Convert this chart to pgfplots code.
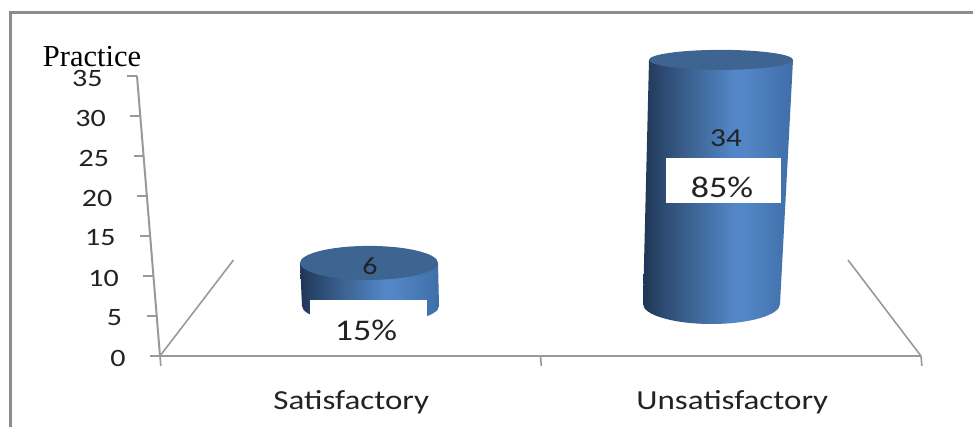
\documentclass[border=0pt]{standalone}
\usepackage{pgfplots}
\usepackage{pgfplotstable}
\usepackage{fontspec}
\pgfplotsset{compat=1.18}
\setmainfont{Liberation Serif}
\newfontfamily\calfont[FakeStretch=1.2]{Carlito}
\definecolor{framegray}{HTML}{8C8C8C}
\definecolor{axisgray}{HTML}{999999}
\definecolor{txt}{HTML}{222222}
\definecolor{cyltop}{HTML}{3E6491}
\definecolor{cA}{HTML}{1F3654}
\definecolor{cF}{HTML}{2D4B73}
\definecolor{cB}{HTML}{3B618F}
\definecolor{cC}{HTML}{4A79B4}
\definecolor{cD}{HTML}{5386C6}
\definecolor{cE}{HTML}{3F6EA8}
\pgfdeclarehorizontalshading{cyl}{100bp}{
  color(0bp)=(cA);
  color(25bp)=(cA);
  color(32bp)=(cF);
  color(40bp)=(cB);
  color(50bp)=(cC);
  color(55bp)=(cD);
  color(59bp)=(cD);
  color(75bp)=(cE);
  color(100bp)=(cE)}
\newcommand\declcyl[4]{%
  \pgfdeclareplotmark{#1}{%
    \pgfpathellipse{\pgfpointorigin}{\pgfqpoint{#2}{0pt}}{\pgfqpoint{0pt}{#3}}%
    #4}}
% the extra zero-area point widens the box of the shading to the body's own width
\declcyl{cbaseL}{68.5pt}{18pt}{\pgfpathmoveto{\pgfqpoint{-70.5pt}{0pt}}\pgfpathlineto{\pgfqpoint{-70.5pt}{0pt}}\pgfshadepath{cyl}{0}\pgfusepath{discard}}
\declcyl{cbaseR}{68.5pt}{20pt}{\pgfpathmoveto{\pgfqpoint{81.5pt}{0pt}}\pgfpathlineto{\pgfqpoint{81.5pt}{0pt}}\pgfshadepath{cyl}{0}\pgfusepath{discard}}
\declcyl{ctopL}{69pt}{17pt}{\pgfsetfillcolor{cyltop}\pgfusepath{fill}}
\declcyl{ctopR}{72pt}{10pt}{\pgfsetfillcolor{cyltop}\pgfusepath{fill}}
\pgfplotsset{cylaxis/.style={at={(0pt,123pt)},anchor=origin,x={(1pt,0pt)},y={(0pt,7.18pt)},
  xmin=0,xmax=973,ymin=0,ymax=40,axis lines=none,clip=false}}
\begin{document}
\begin{tikzpicture}[x=1pt,y=1pt]
\useasboundingbox (0,0) rectangle (973,427);
% frame and floor
\begin{axis}[at={(0pt,0pt)},anchor=origin,x={(1pt,0pt)},y={(0pt,1pt)},
  xmin=0,xmax=973,ymin=0,ymax=427,axis lines=none,clip=true]
\addplot[framegray,line width=3pt,no marks] coordinates {(10,0)(10,414.5)(973,414.5)};
\addplot[axisgray,line width=1.6pt,no marks] coordinates {(160,71)(233.5,167)};
\addplot[axisgray,line width=1.6pt,no marks] coordinates {(921,71)(848,167)};
\end{axis}
% value axes (skewed like the 3-D wall)
\begin{axis}[at={(160pt,71pt)},anchor=origin,x={(1pt,0pt)},y={(-0.657pt,8pt)},
  xmin=0,xmax=761,ymin=0,ymax=35,
  axis x line=bottom,axis y line=left,
  axis line style={-,axisgray,line width=2pt},
  tick align=outside,
  tick style={axisgray,line width=1.6pt},
  major tick length=10pt,
  ytick={0,5,10,15,20,25,30,35},
  xtick={0,380.5,761},xticklabels={,,},
  extra x ticks={190,571},
  extra x tick labels={Satisfactory,Unsatisfactory},
  extra x tick style={tick style={draw=none},major tick length=0pt,
    xticklabel style={yshift=-31pt,font=\calfont\fontsize{27.5}{27.5}\selectfont}},
  /pgf/number format/assume math mode=true,
  ticklabel style={font=\calfont\fontsize{25}{25}\selectfont,text=txt},
  yticklabel style={xshift=-21pt,yshift=-2pt},
  clip=false]
\end{axis}
% cylinder bases
\begin{axis}[cylaxis]
\addplot[only marks,mark=cbaseL,yshift=-2pt] coordinates {(370.5,0)};
\addplot[only marks,mark=cbaseR] coordinates {(711.5,0)};
\end{axis}
% cylinder bodies and tops
\begin{axis}[cylaxis]
\addplot[draw=none,shading=cyl,shading angle=0,yshift=-2pt] coordinates {(302,0)(439,0)(438,6)(300,6)} --cycle;
\addplot[only marks,mark=ctopL,yshift=-2pt] coordinates {(369,6)};
\addplot[draw=none,shading=cyl,shading angle=0] coordinates {(643,0)(780,0)(793,34)(649,34)} --cycle;
\addplot[only marks,mark=ctopR] coordinates {(721,34)};
\end{axis}
% labels
\fill[white] (310,82) rectangle (427,127);
\fill[white] (666,224) rectangle (781,269);
\node[font=\fontsize{30.5}{30}\selectfont,inner sep=0pt] at (92,370) {Practice};
\begin{scope}[every node/.style={inner sep=0pt,text=txt}]
\node[font=\calfont\fontsize{25}{25}\selectfont] at (370,161) {6};
\node[font=\calfont\fontsize{26}{26}\selectfont] at (726,289) {34};
\node[font=\calfont\fontsize{30}{30}\selectfont] at (366,97) {15\%};
\node[font=\calfont\fontsize{30}{30}\selectfont] at (722,240) {85\%};
\end{scope}
\end{tikzpicture}
\end{document}
